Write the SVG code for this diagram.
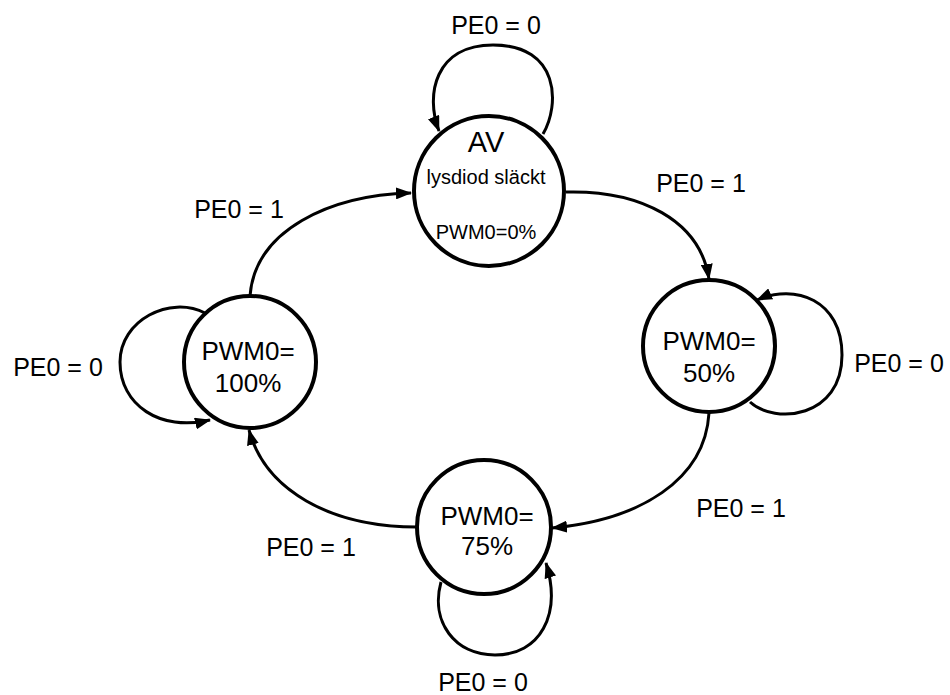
<svg xmlns="http://www.w3.org/2000/svg" width="950" height="695" viewBox="0 0 950 695">
<style>
.node{fill:#fff;stroke:#000;stroke-width:4}
.edge{fill:none;stroke:#000;stroke-width:3}
text{font-family:"Liberation Sans",Arial,sans-serif;fill:#000;text-anchor:middle}
.lbl{font-size:25px}
.nt{font-size:26px}
.sm{font-size:20px}
</style>
<defs>
<marker id="arr" viewBox="0 0 16 12" refX="15" refY="6" markerWidth="16" markerHeight="12" markerUnits="userSpaceOnUse" orient="auto">
<path d="M0,0 L16,6 L0,12 z" fill="#000"/>
</marker>
</defs>
<rect width="950" height="695" fill="#fff"/>
<g id="connectors">
<path class="edge" marker-end="url(#arr)" d="M543 134 C560 105,560 45,493 45 C435 45,425 95,439 131"/>
<path class="edge" marker-end="url(#arr)" d="M566 192 C640 190,700 220,709 279"/>
<path class="edge" marker-end="url(#arr)" d="M750 402 C775 425,842 418,842 355 C842 300,795 283,757 300"/>
<path class="edge" marker-end="url(#arr)" d="M709 413 C705 480,640 520,552 528"/>
<path class="edge" marker-end="url(#arr)" d="M441 582 C430 622,455 655,495 655 C540 655,562 615,546 563"/>
<path class="edge" marker-end="url(#arr)" d="M417 527 C330 527,265 490,249 430"/>
<path class="edge" marker-end="url(#arr)" d="M205 313 C170 295,120 320,120 362 C120 405,160 432,210 420"/>
<path class="edge" marker-end="url(#arr)" d="M250 296 C255 230,330 195,411 193"/>
<text class="lbl" x="496" y="34">PE0 = 0</text>
<text class="lbl" x="701" y="192">PE0 = 1</text>
<text class="lbl" x="899" y="372">PE0 = 0</text>
<text class="lbl" x="741" y="517">PE0 = 1</text>
<text class="lbl" x="483" y="691">PE0 = 0</text>
<text class="lbl" x="311" y="556">PE0 = 1</text>
<text class="lbl" x="58" y="376">PE0 = 0</text>
<text class="lbl" x="239" y="218">PE0 = 1</text>
</g>
<g id="av">
<circle class="node" cx="489" cy="191" r="75"/>
<text x="486" y="152" style="font-size:29px">AV</text>
<text class="sm" x="486" y="184">lysdiod släckt</text>
<text class="sm" x="486" y="239">PWM0=0%</text>
</g>
<g id="pwm50">
<circle class="node" cx="709" cy="346" r="66"/>
<text class="nt" x="709" y="350">PWM0=</text>
<text class="nt" x="709" y="382">50%</text>
</g>
<g id="pwm75">
<circle class="node" cx="484" cy="527" r="67"/>
<text class="nt" x="487" y="525">PWM0=</text>
<text class="nt" x="487" y="555">75%</text>
</g>
<g id="pwm100">
<circle class="node" cx="250" cy="362" r="66"/>
<text class="nt" x="248" y="360">PWM0=</text>
<text class="nt" x="248" y="392">100%</text>
</g>
</svg>
